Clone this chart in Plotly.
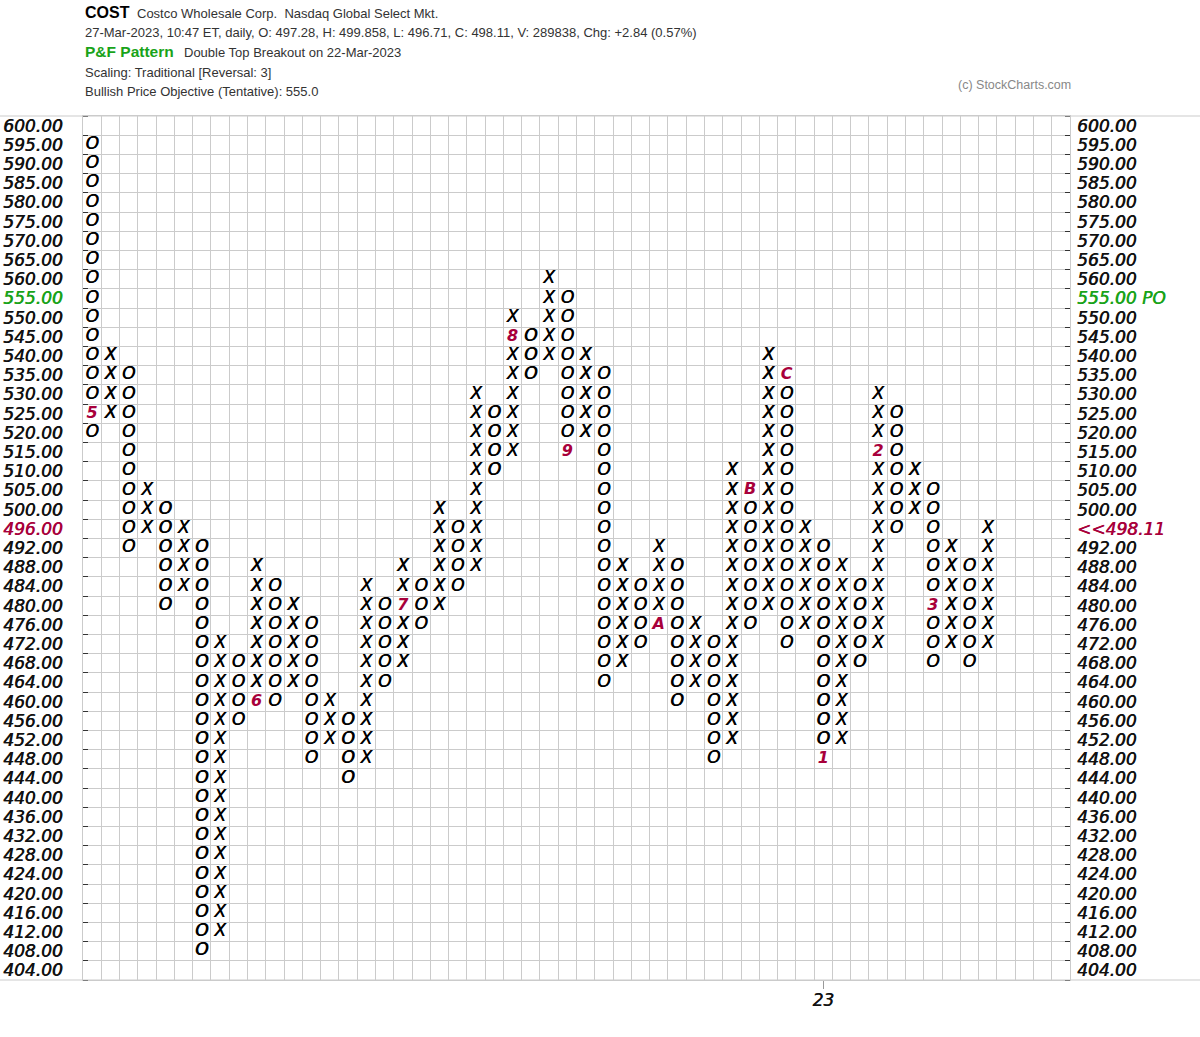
import plotly.graph_objects as go

# ---------------- data ----------------
price_levels = [404, 408, 412, 416, 420, 424, 428, 432, 436, 440, 444, 448,
                452, 456, 460, 464, 468, 472, 476, 480, 484, 488, 492, 496,
                500, 505, 510, 515, 520, 525, 530, 535, 540, 545, 550, 555,
                560, 565, 570, 575, 580, 585, 590, 595, 600]

column_types = ["O", "X", "O", "X", "O", "X", "O", "X", "O", "X",
                "O", "X", "O", "X", "O", "X", "O", "X", "O", "X",
                "O", "X", "O", "X", "O", "X", "O", "X", "O", "X",
                "O", "X", "O", "X", "O", "X", "O", "X", "O", "X",
                "O", "X", "O", "X", "O", "X", "O", "X", "O", "X"]
column_low = [520, 525, 492, 496, 480, 484, 408, 412, 456, 460,
              460, 464, 448, 452, 444, 448, 464, 468, 476, 480,
              484, 488, 510, 515, 535, 540, 515, 520, 464, 468,
              472, 476, 460, 464, 448, 452, 476, 480, 472, 476,
              448, 452, 468, 472, 496, 500, 468, 472, 468, 472]
column_high = [595, 540, 535, 505, 500, 496, 492, 472, 468, 488,
               484, 480, 476, 460, 456, 484, 480, 488, 484, 500,
               496, 530, 525, 550, 545, 560, 555, 540, 535, 488,
               484, 492, 488, 476, 472, 510, 505, 540, 535, 496,
               492, 488, 484, 530, 525, 510, 505, 492, 488, 496]

month_cols = [0, 9, 17, 23, 26, 31, 36, 38, 40, 43, 46]
month_prices = [525, 460, 480, 545, 515, 476, 505, 535, 448, 515, 480]
month_labels = ["5", "6", "7", "8", "9", "A", "B", "C", "1", "2", "3"]

year_cols = [40]
year_labels = ["23"]

price_objective = 555
last_price = 498.11
last_box = 496

# ---------------- styling ----------------
N_COLS = 54
GRID = "#cbcbcb"
RED = "#a8003b"
GREEN = "#19a319"
FONT = "DejaVu Sans"
W, H = 1200, 1037
ML, MR, MT, MB = 83, 130, 116, 57
PW, PH = W - ML - MR, H - MT - MB
SHADOW = "0.6px 0px 0px"


def px(xp):
    return (xp - ML) / PW


def py(yp):
    return (H - MB - yp) / PH


idx = {p: i for i, p in enumerate(price_levels)}
marker_cells = {(c, p) for c, p in zip(month_cols, month_prices)}

xs, ys, ts = [], [], []
for c, (t, lo, hi) in enumerate(zip(column_types, column_low, column_high)):
    for p in price_levels:
        if lo <= p <= hi and (c, p) not in marker_cells:
            xs.append(c)
            ys.append(idx[p])
            ts.append(t)

fig = go.Figure()
fig.add_trace(go.Scatter(
    x=xs, y=ys, text=ts, mode="text", textposition="middle center",
    textfont=dict(family=FONT, size=17, color="black", style="italic",
                  shadow=f"{SHADOW} #000"),
    hoverinfo="skip", showlegend=False))
fig.add_trace(go.Scatter(
    x=month_cols, y=[idx[p] for p in month_prices], text=month_labels,
    mode="text", textposition="middle center",
    textfont=dict(family=FONT, size=16, color=RED, style="italic", weight="bold"),
    hoverinfo="skip", showlegend=False))
# invisible trace for the right axis
fig.add_trace(go.Scatter(x=[None], y=[None], yaxis="y2", showlegend=False,
                         hoverinfo="skip"))


def colored(s, col):
    return f"<span style='color:{col};text-shadow:{SHADOW} {col}'>{s}</span>"


def left_label(p):
    s = f"{p:.2f}"
    if p == price_objective:
        return colored(s, GREEN)
    if p == last_box:
        return colored(s, RED)
    return s


def right_label(p):
    s = f"{p:.2f}"
    if p == price_objective:
        return colored(f"{s} PO", GREEN)
    if p == last_box:
        return colored(f"&lt;&lt;{last_price:.2f}", RED)
    return s


tick_idx = list(range(len(price_levels)))
bounds_y = [i - 0.5 for i in range(len(price_levels) + 1)]
bounds_x = [i - 0.5 for i in range(N_COLS + 1)]

lab_font = dict(family=FONT, size=17, color="#111", style="italic",
                shadow=f"{SHADOW} #111")

fig.update_layout(
    width=W, height=H,
    margin=dict(l=ML, r=MR, t=MT, b=MB, pad=0, autoexpand=False),
    paper_bgcolor="white", plot_bgcolor="white",
    xaxis=dict(
        range=[-0.5, N_COLS - 0.5], showgrid=False, zeroline=False,
        automargin=False,
        tickmode="array", tickvals=year_cols, ticktext=year_labels,
        ticks="outside", ticklen=8, tickcolor="#999", tickwidth=1,
        ticklabelstandoff=-3,
        tickfont=lab_font,
        minor=dict(tickmode="array", tickvals=bounds_x, showgrid=True,
                   gridcolor=GRID, gridwidth=1, ticks=""),
        showline=True, linecolor=GRID, mirror=True, fixedrange=True,
    ),
    yaxis=dict(
        range=[-0.5, len(price_levels) - 0.5], showgrid=False, zeroline=False,
        automargin=False,
        tickmode="array", tickvals=tick_idx,
        ticktext=[left_label(p) for p in price_levels],
        ticks="", ticklabelstandoff=16,
        tickfont=lab_font,
        minor=dict(tickmode="array", tickvals=bounds_y, showgrid=True,
                   gridcolor=GRID, gridwidth=1, ticks="inside", ticklen=5,
                   tickcolor="#333", tickwidth=1),
        showline=True, linecolor=GRID, mirror=True, fixedrange=True,
    ),
    yaxis2=dict(
        overlaying="y", side="right", anchor="x",
        range=[-0.5, len(price_levels) - 0.5], showgrid=False, zeroline=False,
        automargin=False,
        tickmode="array", tickvals=tick_idx,
        ticktext=[right_label(p) for p in price_levels],
        ticks="", ticklabelstandoff=6,
        tickfont=lab_font,
        minor=dict(tickmode="array", tickvals=bounds_y, showgrid=False,
                   ticks="inside", ticklen=5, tickcolor="#333", tickwidth=1),
        showline=False, fixedrange=True,
    ),
)

# full-width top and bottom rules
for yy in (1.0, 0.0):
    fig.add_shape(type="line", xref="paper", yref="paper",
                  x0=px(0), x1=px(W), y0=yy, y1=yy,
                  line=dict(color=GRID, width=1))

HDR = "Liberation Sans Narrow, Arial Narrow, Liberation Sans, sans-serif"
header = [
    (83, 13, "<b>COST</b>", 16, "#000"),
    (135, 14, "Costco Wholesale Corp.  Nasdaq Global Select Mkt.", 13, "#333"),
    (83, 33, "27-Mar-2023, 10:47 ET, daily, O: 497.28, H: 499.858, L: 496.71, "
             "C: 498.11, V: 289838, Chg: +2.84 (0.57%)", 13, "#333"),
    (83, 52, "<b>P&amp;F Pattern</b>", 15.5, GREEN),
    (182, 53, "Double Top Breakout on 22-Mar-2023", 13, "#333"),
    (83, 72, "Scaling: Traditional [Reversal: 3]", 13, "#333"),
    (83, 91, "Bullish Price Objective (Tentative): 555.0", 13, "#333"),
]
for x0, y0, txt, sz, col in header:
    fig.add_annotation(xref="paper", yref="paper", x=px(x0), y=py(y0),
                       xanchor="left", yanchor="middle", text=txt,
                       showarrow=False,
                       font=dict(family=HDR, size=sz, color=col))
fig.add_annotation(xref="paper", yref="paper", x=px(956), y=py(85),
                   xanchor="left", yanchor="middle", text="(c) StockCharts.com",
                   showarrow=False,
                   font=dict(family="Liberation Sans, sans-serif", size=12.5,
                             color="#888"))

fig.write_html("out.html",
               config={"displayModeBar": False},
               post_script="document.body.style.margin='0';"
                           "document.body.style.overflow='hidden';")
